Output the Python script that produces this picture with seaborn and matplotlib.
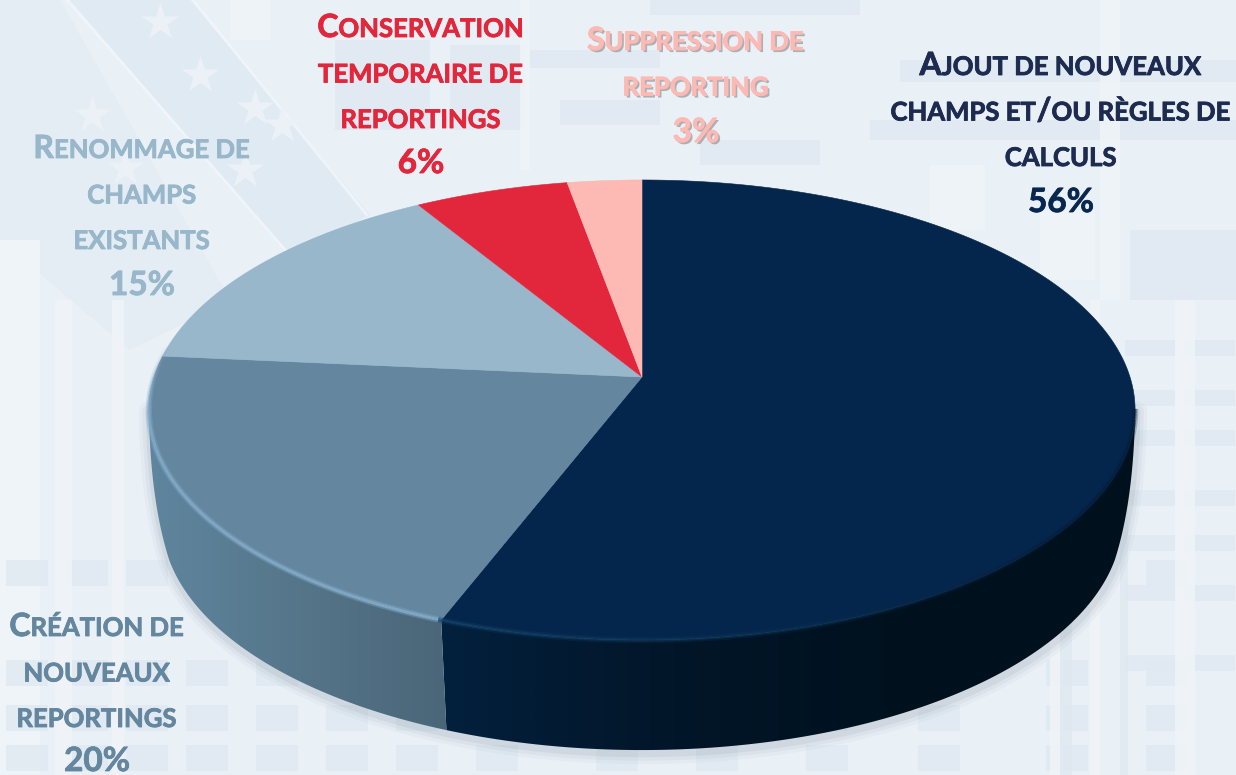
import matplotlib
matplotlib.use('Agg')
import matplotlib.patheffects as pe
import matplotlib.pyplot as plt
import numpy as np
import seaborn as sns
from matplotlib.collections import LineCollection
from matplotlib.colors import LinearSegmentedColormap, to_rgb

categories = [
    'Ajout de nouveaux\nchamps et/ou règles de\ncalculs',
    'Création de\nnouveaux\nreportings',
    'Renommage de\nchamps\nexistants',
    'Conservation\ntemporaire de\nreportings',
    'Suppression de\nreporting',
]
# the printed labels are rounded
values = [55.8, 20.7, 14.9, 5.8, 2.8]
shown_percent = ['56%', '20%', '15%', '6%', '3%']
slice_colors = ['#05264c', '#64879f', '#98b7cb', '#e2263b', '#fdb9b3']
label_colors = ['#1c2b4f', '#64879f', '#98b7cb', '#e2263b', '#fdb9b3']
percent_colors = ['#062850', '#64879f', '#98b7cb', '#e2263b', '#fdb9b3']

# label centre x, baseline of the first line, baseline of the percent
label_x = [1061, 97, 142, 421, 696]
label_y = [75, 636, 158, 37, 50]
percent_y = [212, 771, 295, 173, 142]
line_step = 45.5

# pie geometry, in pixels of the figure
CX, CY = 642, 377
RX, RY = 488, 225.3
PERSP = 0.1435
DEPTH = 110
BOTTOM_SCALE = 0.9736


def rim(theta):
    # theta in degrees, clockwise from the top, with some perspective
    t = np.radians(theta)
    d = 1 + PERSP * np.cos(t)
    return CX + RX * np.sin(t) / d, CY - RY * np.cos(t) / d


def bottom_rim(theta):
    x, y = rim(theta)
    return CX + (x - CX) * BOTTOM_SCALE, y + DEPTH


def side_curve(top_theta, low_theta, ctrl):
    # bulging edge of the body, from the widest point of the rim to the lower rim
    p0 = np.array(rim(top_theta))
    p2 = np.array(bottom_rim(low_theta))
    s = np.linspace(0, 1, 40)[:, None]
    pts = (1 - s) ** 2 * p0 + 2 * s * (1 - s) * np.array(ctrl) + s ** 2 * p2
    return pts[:, 0], pts[:, 1]


def box(ax, x0, x1, y0, y1, color, alpha=1.0, z=1):
    ax.fill([x0, x1, x1, x0], [y0, y0, y1, y1], color=color, alpha=alpha, lw=0, zorder=z)


def draw_background(ax):
    box(ax, 0, 1236, 0, 775, '#e9f0f6', z=0)

    # flags in the upper left
    ax.fill([0, 60, 230, 130, 0], [0, 0, 300, 350, 240], color='#e4edf4', lw=0, zorder=1)
    ax.fill([70, 190, 370, 290], [0, 0, 215, 255], color='#e0eaf3', lw=0, zorder=1)
    box(ax, 0, 40, 240, 775, '#eff4f8')
    for start, stop in [((67, 0), (287, 252)), ((193, 0), (367, 215))]:
        ax.plot(*zip(start, stop), color='#f2f6fa', lw=2, alpha=0.85, zorder=2)
    stars_x = [160, 200, 255, 282, 245, 125, 92]
    stars_y = [22, 75, 108, 125, 170, 168, 115]
    ax.scatter(stars_x, stars_y, marker='*', s=800, color='#ebf1f7', linewidths=0, zorder=2)

    # building, upper part
    for x0, x1, y0, y1 in [(335, 430, 40, 130), (450, 525, 45, 130), (530, 660, 50, 68),
                           (560, 660, 100, 125), (650, 860, 0, 15), (900, 1236, 60, 82),
                           (870, 1236, 120, 140), (700, 820, 140, 165), (1130, 1236, 230, 300)]:
        box(ax, x0, x1, y0, y1, '#e0e9f2', 0.8)
    for x0, x1, y0, y1 in [(520, 530, 0, 170), (230, 270, 0, 40), (1100, 1120, 0, 300),
                           (930, 985, 165, 230), (1040, 1095, 210, 280)]:
        box(ax, x0, x1, y0, y1, '#f0f5f8', 0.8)

    # windows on the lower part
    for col_x in [0, 60, 120, 180, 250, 320, 390, 470, 590, 690, 800, 912, 1040, 1140]:
        for row_y in [560, 660, 705, 745]:
            box(ax, col_x + 6, col_x + 48, row_y, row_y + 26, '#e0e9f1', 0.8)
    for col_x in [1125, 1185]:
        for row_y in [340, 390, 430, 490, 535, 585, 655]:
            box(ax, col_x, col_x + 50, row_y, row_y + 16, '#e0e9f2', 0.8)
    for x0, x1 in [(55, 72), (112, 124), (1050, 1062), (1175, 1195), (1090, 1100)]:
        box(ax, x0, x1, 300, 775, '#f1f5f9', 0.8)
    for x0, x1 in [(1060, 1072), (1120, 1128)]:
        box(ax, x0, x1, 480, 775, '#dfe8f0', 0.8)


def wall_part(ax, xs, ys, x_left, x_right, colors):
    # gradient along x, clipped to the outline of this part of the wall
    outline = ax.fill(xs, ys, facecolor='none', edgecolor='none', zorder=4)[0]
    cmap = LinearSegmentedColormap.from_list('wall', colors)
    gradient = np.linspace(0, 1, 512)[None, :]
    im = ax.imshow(gradient, cmap=cmap, extent=(x_left, x_right, 775, 0), aspect='auto', zorder=4)
    im.set_clip_path(outline)


def draw_pie(ax, palette):
    ends = np.cumsum(values) / np.sum(values) * 360
    starts = np.r_[0, ends[:-1]]
    split = ends[0]

    right_x, right_y = side_curve(98, 108, (1134, 500))
    left_x, left_y = side_curve(262, 252, (150, 500))

    # soft shadow under the body
    low_x, low_y = bottom_rim(np.linspace(108, 252, 300))
    sx = np.r_[right_x, low_x, left_x[::-1]]
    sy = np.r_[right_y, low_y, left_y[::-1]]
    for lw, alpha in [(16, 0.04), (11, 0.06), (6, 0.09)]:
        ax.plot(sx + 1, sy + 3, color='#5b6f82', lw=lw, alpha=alpha, zorder=3,
                solid_capstyle='round')

    # side wall: navy part on the right, slate part on the left
    split_x = rim(split)[0]
    top_t = np.linspace(98, split, 200)
    low_t = np.linspace(split, 108, 200)
    wall_part(ax,
              np.r_[rim(top_t)[0], bottom_rim(low_t)[0], right_x[::-1]],
              np.r_[rim(top_t)[1], bottom_rim(low_t)[1], right_y[::-1]],
              split_x, 1136, ['#03203d', '#021629', '#00111e', '#00101c'])
    top_t = np.linspace(split, 262, 200)
    low_t = np.linspace(252, split, 200)
    wall_part(ax,
              np.r_[rim(top_t)[0], left_x, bottom_rim(low_t)[0]],
              np.r_[rim(top_t)[1], left_y, bottom_rim(low_t)[1]],
              148, split_x + 12, ['#5f869f', '#557589', '#4a6578'])

    # top faces
    for start, end, col in zip(starts, ends, palette):
        thetas = np.linspace(start, end, 200)
        x, y = rim(thetas)
        ax.fill(np.r_[CX, x], np.r_[CY, y], color=col, lw=0.4, zorder=6)

    # bevel along the front of the rim
    thetas = np.linspace(98, 280, 500)
    x, y = rim(thetas)
    pts = np.column_stack([x, y]).reshape(-1, 1, 2)
    segs = np.concatenate([pts[:-1], pts[1:]], axis=1)
    cols = []
    for a in thetas[:-1]:
        if a < split:
            f = np.clip((a - 130) / (split - 130), 0, 1)
            base = np.array(to_rgb('#021c36')) * (1 - f) + np.array(to_rgb('#16466f')) * f
            cols.append((*base, 0.55))
        else:
            f = np.clip((278 - a) / 16, 0, 1)
            cols.append((*to_rgb('#83abc9'), 0.85 * f))
    for lw, scale in [(4.5, 0.45), (2.2, 1.0)]:
        c = [(r, g, b, al * scale) for r, g, b, al in cols]
        ax.add_collection(LineCollection(segs, colors=c, linewidths=lw, zorder=7, capstyle='butt'))


def small_caps_line(ax, text, xc, y, color, big=23, small=18.5, effects=None):
    # first letters large, the rest as small capitals, centred on xc
    runs = []
    for ch in text:
        is_big = ch.isupper() or ch == '/'
        if runs and runs[-1][1] == is_big:
            runs[-1][0] += ch.upper()
        else:
            runs.append([ch.upper(), is_big])
    renderer = ax.figure.canvas.get_renderer()
    items, total = [], 0
    for chunk, is_big in runs:
        t = ax.text(0, y, chunk.replace(' ', '\u00a0'), fontsize=big if is_big else small,
                    fontweight='bold', color=color, ha='left', va='baseline', zorder=9,
                    clip_on=False, path_effects=effects)
        w = t.get_window_extent(renderer).width
        items.append((t, w))
        total += w
    pos = xc - total / 2
    for t, w in items:
        t.set_x(pos)
        pos += w


def draw_labels(ax):
    for i, cat in enumerate(categories):
        # a thin stroke to get the weight of the original lettering
        fx = [pe.withStroke(linewidth=0.6, foreground=label_colors[i])]
        if i == 4:
            fx = [pe.SimplePatchShadow(offset=(1.5, -1.5), shadow_rgbFace='#7d7d7d', alpha=0.55)] + fx
        y = label_y[i]
        for line in cat.split('\n'):
            small_caps_line(ax, line, label_x[i], y, label_colors[i], effects=fx)
            y += line_step
        ax.text(label_x[i], percent_y[i], shown_percent[i], fontsize=24, fontweight='bold',
                color=percent_colors[i], ha='center', va='baseline', zorder=9, path_effects=fx)


sns.set_theme(style='white')
plt.rcParams['font.family'] = ['Lato', 'DejaVu Sans']
palette = sns.color_palette(slice_colors)

fig = plt.figure(figsize=(12.36, 7.75), dpi=100)
ax = fig.add_axes([0, 0, 1, 1])
ax.set_xlim(0, 1236)
ax.set_ylim(775, 0)
ax.axis('off')
fig.canvas.draw()

draw_background(ax)
draw_pie(ax, palette)
draw_labels(ax)

ax.set_xlim(0, 1236)
ax.set_ylim(775, 0)
fig.savefig('out.png', dpi=100)
